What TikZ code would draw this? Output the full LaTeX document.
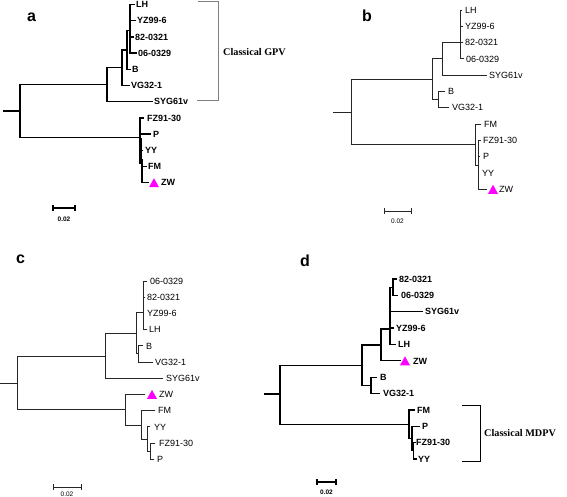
\documentclass[tikz,border=0pt]{standalone}
\usepackage{fontspec}
\setmainfont{Liberation Serif}
\newfontfamily\arialf{Liberation Sans}
\definecolor{mag}{RGB}{255,0,255}
\tikzset{
  pa/.style={line width=1.3pt, black, line cap=rect},
  pb/.style={line width=0.95pt, black!85, line cap=rect},
  labpa/.style={anchor=west, inner sep=0pt, text height=6.4pt, text depth=0pt, font=\arialf\bfseries\fontsize{9}{10}\selectfont},
  labpb/.style={anchor=west, inner sep=0pt, text height=6.4pt, text depth=0pt, font=\arialf\fontsize{9}{10}\selectfont},
  panel/.style={inner sep=0pt, font=\arialf\bfseries\fontsize{16}{17}\selectfont},
  clade/.style={anchor=west, inner sep=0pt, font=\bfseries\fontsize{10.2}{11}\selectfont},
  scl/.style={inner sep=0pt, font=\arialf\fontsize{6.5}{7}\selectfont},
  scla/.style={inner sep=0pt, font=\arialf\bfseries\fontsize{6.5}{7}\selectfont}
}
% style, name, x1, x2, y, label x, text
\newcommand{\tleaf}[7]{%
  \draw[#1] (#3,#5) -- (#4,#5);
  \node[lab#1] (#2) at (#6,#5) {#7};}
\newcommand{\ztri}[2]{\fill[mag] (#1-5,#2+4.5) -- (#1+5,#2+4.5) -- (#1,#2-4.5) -- cycle;}
\begin{document}
\begin{tikzpicture}[x=1pt,y=-1pt]
\useasboundingbox (0,0) rectangle (567,497);
\fill[white] (0,0) rectangle (567,497);

% ================= panel a =================
\node[panel] (pla) at (31.5,17) {a};
\draw[pa] (4,111) -- (20,111);
\draw[pa] (20,84.7) -- (20,137.3);
\draw[pa] (20,84.7) -- (107,84.7);
\draw[pa] (20,137.3) -- (140,137.3);
\draw[pa] (107,67.75) -- (107,101.7);
\draw[pa] (107,67.75) -- (122,67.75);
\tleaf{pa}{aSYG}{107}{152}{101.7}{154}{SYG61v}
\draw[pa] (122,50) -- (122,85.5);
\draw[pa] (122,50) -- (127,50);
\tleaf{pa}{aVG}{122}{129}{85.5}{131}{VG32-1}
\draw[pa] (127,30.7) -- (127,69.3);
\draw[pa] (127,30.7) -- (130,30.7);
\tleaf{pa}{aB}{127}{130}{69.3}{132}{B}
\draw[pa] (130,4.5) -- (130,53.1);
\tleaf{pa}{aLH}{130}{134}{4.5}{136}{LH}
\tleaf{pa}{aYZ}{130}{135}{20.7}{137}{YZ99-6}
\tleaf{pa}{a82}{130}{133}{36.9}{135}{82-0321}
\tleaf{pa}{a06}{130}{136}{53.1}{138}{06-0329}
% lower
\draw[pa] (140,117.9) -- (140,163);
\draw[line width=2.4pt] (140.3,138) -- (140.3,160);
\tleaf{pa}{aFZ}{140}{143}{117.9}{147}{FZ91-30}
\tleaf{pa}{aP}{140}{150}{134.1}{153}{P}
\tleaf{pa}{aYY}{140}{142}{150.3}{145}{YY}
\draw[pa] (142,160) -- (142,182.7);
\tleaf{pa}{aFM}{142}{146}{166.5}{148}{FM}
\tleaf{pa}{aZW}{142}{148}{182.7}{161}{ZW}
\ztri{154}{182.7}
% bracket
\draw[gray, line width=0.9pt] (198,1.5) -- (218,1.5) -- (218,100) -- (197,100);
\node[clade] (agpv) at (223,52) {Classical GPV};
% scale
\draw[pa] (53,208) -- (75,208);
\draw[pa] (53,205.5) -- (53,210.5);
\draw[pa] (75,205.5) -- (75,210.5);
\node[scla] (asc) at (64,219) {0.02};

% ================= panel b =================
\node[panel] (plb) at (367,16) {b};
\draw[pb] (333,112) -- (351,112);
\draw[pb] (351,79.1) -- (351,144.9);
\draw[pb] (351,79.1) -- (432,79.1);
\draw[pb] (351,144.9) -- (475,144.9);
\draw[pb] (432,58.6) -- (432,99.65);
\draw[pb] (432,58.6) -- (442,58.6);
\draw[pb] (432,99.65) -- (438,99.65);
\draw[pb] (442,42) -- (442,75.2);
\draw[pb] (442,42) -- (460,42);
\tleaf{pb}{bSYG}{442}{487}{75.2}{489}{SYG61v}
\draw[pb] (460,10) -- (460,58.9);
\tleaf{pb}{bLH}{460}{462}{10}{465}{LH}
\tleaf{pb}{bYZ}{460}{463}{26.3}{465}{YZ99-6}
\tleaf{pb}{b82}{460}{463}{42.6}{465}{82-0321}
\tleaf{pb}{b06}{460}{464}{58.9}{466}{06-0329}
\draw[pb] (438,91.5) -- (438,107.8);
\tleaf{pb}{bB}{438}{445}{91.5}{448}{B}
\tleaf{pb}{bVG}{438}{449}{107.8}{452}{VG32-1}
\draw[pb] (475,124.1) -- (475,165.7);
\tleaf{pb}{bFM}{475}{481}{124.1}{484}{FM}
\draw[pb] (475,165.7) -- (478,165.7);
\draw[pb] (478,140.4) -- (478,189.3);
\tleaf{pb}{bFZ}{478}{481}{140.4}{483}{FZ91-30}
\tleaf{pb}{bP}{478}{480}{156.7}{483}{P}
\tleaf{pb}{bYY}{478}{479}{173}{482}{YY}
\tleaf{pb}{bZW}{478}{487}{189.3}{499}{ZW}
\ztri{493}{189.3}
\draw[pb] (384,211) -- (411,211);
\draw[pb] (384,208.5) -- (384,213.5);
\draw[pb] (411,208.5) -- (411,213.5);
\node[scl] (bsc) at (397.5,221) {0.02};

% ================= panel c =================
\node[panel] (plc) at (20.5,259) {c};
\draw[pb] (0,383) -- (17,383);
\draw[pb] (17,356) -- (17,409.7);
\draw[pb] (17,356) -- (105,356);
\draw[pb] (17,409.7) -- (125,409.7);
\draw[pb] (105,333.5) -- (105,378.2);
\tleaf{pb}{cSYG}{105}{163}{378.2}{166}{SYG61v}
\draw[pb] (105,333.5) -- (136,333.5);
\draw[pb] (136,312) -- (136,353.9);
\draw[pb] (136,312) -- (143,312);
\draw[pb] (143,281) -- (143,329.6);
\tleaf{pb}{c06}{143}{147}{281}{150}{06-0329}
\tleaf{pb}{c82}{143}{145}{297.2}{147}{82-0321}
\tleaf{pb}{cYZ}{143}{144}{313.4}{147}{YZ99-6}
\tleaf{pb}{cLH}{143}{147}{329.6}{149}{LH}
\draw[pb] (136,353.9) -- (138,353.9);
\draw[pb] (138,345.8) -- (138,362);
\tleaf{pb}{cB}{138}{143}{345.8}{146}{B}
\tleaf{pb}{cVG}{138}{153}{362}{155}{VG32-1}
% lower
\draw[pb] (125,394.4) -- (125,425);
\tleaf{pb}{cZW}{125}{145}{394.4}{159}{ZW}
\ztri{152}{394.4}
\draw[pb] (125,425) -- (141,425);
\draw[pb] (141,410.6) -- (141,439);
\tleaf{pb}{cFM}{141}{155}{410.6}{158}{FM}
\draw[pb] (141,439) -- (147,439);
\draw[pb] (147,426.8) -- (147,451.1);
\tleaf{pb}{cYY}{147}{150}{426.8}{154}{YY}
\draw[pb] (147,451.1) -- (150,451.1);
\draw[pb] (150,443) -- (150,459.2);
\tleaf{pb}{cFZ}{150}{155}{443}{159}{FZ91-30}
\tleaf{pb}{cP}{150}{154}{459.2}{157}{P}
\draw[pb] (53,487) -- (81,487);
\draw[pb] (53,484.5) -- (53,489.5);
\draw[pb] (81,484.5) -- (81,489.5);
\node[scl] (csc) at (67,494.5) {0.02};

% ================= panel d =================
\node[panel] (pld) at (305,261) {d};
\draw[pa] (265,394) -- (280,394);
\draw[pa] (280,365.2) -- (280,424.2);
\draw[pa] (280,365.2) -- (362,365.2);
\draw[pa] (280,424.2) -- (409,424.2);
\draw[pa] (362,345) -- (362,385.4);
\draw[pa] (362,345) -- (381,345);
\draw[pa] (362,385.4) -- (371,385.4);
\draw[pa] (381,329) -- (381,360.8);
\tleaf{pa}{dZW}{381}{400}{360.8}{413}{ZW}
\ztri{405}{360.8}
\draw[pa] (381,329) -- (390,329);
\draw[pa] (390,287.2) -- (390,344.4);
\draw[pa] (390,287.2) -- (393,287.2);
\draw[pa] (393,279) -- (393,295.4);
\tleaf{pa}{d82}{393}{396}{279}{399}{82-0321}
\tleaf{pa}{d06}{393}{397}{295.4}{401}{06-0329}
\tleaf{pa}{dSYG}{390}{422}{311.7}{425}{SYG61v}
\tleaf{pa}{dYZ}{390}{393}{328.1}{396}{YZ99-6}
\tleaf{pa}{dLH}{390}{395}{344.4}{398}{LH}
\draw[pa] (371,377.2) -- (371,393.5);
\tleaf{pa}{dB}{371}{376}{377.2}{380}{B}
\tleaf{pa}{dVG}{371}{379}{393.5}{383}{VG32-1}
\draw[pa] (409,409.9) -- (409,438.5);
\tleaf{pa}{dFM}{409}{414}{409.9}{417}{FM}
\draw[pa] (409,438.5) -- (412,438.5);
\draw[pa] (412,426.2) -- (412,450.8);
\tleaf{pa}{dP}{412}{419}{426.2}{422}{P}
\draw[pa] (412,450.8) -- (413.5,450.8);
\draw[pa] (413.5,442.6) -- (413.5,459);
\tleaf{pa}{dFZ}{413.5}{415}{442.6}{416}{FZ91-30}
\tleaf{pa}{dYY}{413.5}{416}{459}{418}{YY}
\draw[black, line width=0.9pt] (462,405) -- (480,405) -- (480,461) -- (462,461);
\node[clade] (dmdpv) at (484,433) {Classical\ MDPV};
\draw[pa] (317,482) -- (336,482);
\draw[pa] (317,479.5) -- (317,484.5);
\draw[pa] (336,479.5) -- (336,484.5);
\node[scla] (dsc) at (326.5,492) {0.02};
\end{tikzpicture}
\end{document}
